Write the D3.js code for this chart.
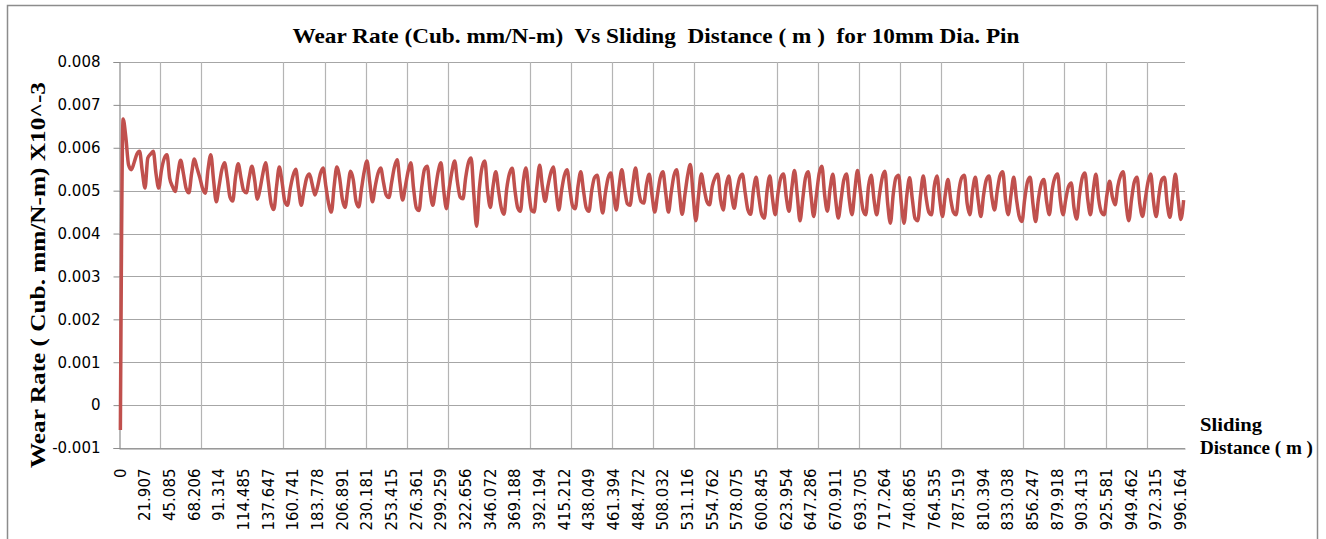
<!DOCTYPE html>
<html>
<head>
<meta charset="utf-8">
<script src="https://cdn.jsdelivr.net/npm/d3@7"></script>
<style>
  body { margin: 0; background: #fff; }
  svg { display: block; }
</style>
</head>
<body>
<script>
// Wear rate chart (one per category)

var wearRate = [
  -0.00058, 0.00667, 0.00624, 0.00560, 0.00549, 0.00565, 0.00585, 0.00592, 0.00545, 0.00506,
  0.00576, 0.00585, 0.00592, 0.00540, 0.00506, 0.00548, 0.00575, 0.00584, 0.00529, 0.00510,
  0.00498, 0.00540, 0.00571, 0.00540, 0.00505, 0.00495, 0.00540, 0.00574, 0.00552, 0.00530,
  0.00505, 0.00494, 0.00550, 0.00584, 0.00525, 0.00474, 0.00510, 0.00548, 0.00565, 0.00530,
  0.00485, 0.00476, 0.00530, 0.00563, 0.00530, 0.00500, 0.00495, 0.00530, 0.00557, 0.00525,
  0.00480, 0.00505, 0.00540, 0.00565, 0.00520, 0.00470, 0.00456, 0.00510, 0.00555, 0.00520,
  0.00475, 0.00466, 0.00505, 0.00535, 0.00550, 0.00505, 0.00466, 0.00500, 0.00530, 0.00539,
  0.00515, 0.00490, 0.00510, 0.00540, 0.00553, 0.00510, 0.00470, 0.00450, 0.00510, 0.00555,
  0.00530, 0.00480, 0.00461, 0.00505, 0.00545, 0.00525, 0.00475, 0.00462, 0.00505, 0.00545,
  0.00569, 0.00520, 0.00474, 0.00510, 0.00540, 0.00553, 0.00520, 0.00490, 0.00484, 0.00520,
  0.00555, 0.00572, 0.00520, 0.00478, 0.00510, 0.00545, 0.00565, 0.00505, 0.00460, 0.00454,
  0.00510, 0.00550, 0.00557, 0.00500, 0.00466, 0.00505, 0.00545, 0.00565, 0.00500, 0.00458,
  0.00505, 0.00545, 0.00569, 0.00520, 0.00485, 0.00481, 0.00530, 0.00565, 0.00576, 0.00490,
  0.00417, 0.00505, 0.00555, 0.00569, 0.00500, 0.00461, 0.00510, 0.00544, 0.00500, 0.00460,
  0.00445, 0.00505, 0.00540, 0.00552, 0.00500, 0.00460, 0.00452, 0.00520, 0.00553, 0.00500,
  0.00455, 0.00450, 0.00510, 0.00559, 0.00510, 0.00475, 0.00510, 0.00540, 0.00555, 0.00500,
  0.00455, 0.00500, 0.00535, 0.00549, 0.00505, 0.00465, 0.00458, 0.00510, 0.00544, 0.00500,
  0.00460, 0.00452, 0.00500, 0.00530, 0.00536, 0.00490, 0.00448, 0.00495, 0.00530, 0.00541,
  0.00490, 0.00455, 0.00510, 0.00549, 0.00505, 0.00470, 0.00466, 0.00515, 0.00553, 0.00505,
  0.00475, 0.00471, 0.00515, 0.00538, 0.00490, 0.00450, 0.00490, 0.00530, 0.00544, 0.00495,
  0.00450, 0.00495, 0.00535, 0.00549, 0.00495, 0.00445, 0.00490, 0.00535, 0.00561, 0.00490,
  0.00430, 0.00490, 0.00539, 0.00505, 0.00475, 0.00467, 0.00510, 0.00530, 0.00538, 0.00480,
  0.00455, 0.00510, 0.00534, 0.00490, 0.00459, 0.00500, 0.00530, 0.00538, 0.00495, 0.00455,
  0.00445, 0.00500, 0.00531, 0.00485, 0.00445, 0.00436, 0.00500, 0.00534, 0.00480, 0.00444,
  0.00495, 0.00530, 0.00539, 0.00485, 0.00452, 0.00505, 0.00547, 0.00490, 0.00430, 0.00480,
  0.00530, 0.00544, 0.00490, 0.00440, 0.00490, 0.00540, 0.00557, 0.00490, 0.00452, 0.00505,
  0.00538, 0.00480, 0.00436, 0.00480, 0.00525, 0.00539, 0.00480, 0.00444, 0.00500, 0.00547,
  0.00500, 0.00455, 0.00444, 0.00510, 0.00536, 0.00480, 0.00444, 0.00490, 0.00530, 0.00545,
  0.00470, 0.00424, 0.00490, 0.00530, 0.00536, 0.00470, 0.00424, 0.00490, 0.00530, 0.00480,
  0.00435, 0.00430, 0.00490, 0.00534, 0.00485, 0.00450, 0.00444, 0.00510, 0.00534, 0.00480,
  0.00440, 0.00490, 0.00526, 0.00480, 0.00450, 0.00444, 0.00500, 0.00530, 0.00536, 0.00470,
  0.00444, 0.00500, 0.00531, 0.00480, 0.00440, 0.00490, 0.00525, 0.00534, 0.00485, 0.00455,
  0.00500, 0.00535, 0.00544, 0.00480, 0.00444, 0.00490, 0.00531, 0.00480, 0.00440, 0.00428,
  0.00480, 0.00520, 0.00531, 0.00470, 0.00428, 0.00480, 0.00515, 0.00526, 0.00475, 0.00444,
  0.00500, 0.00530, 0.00539, 0.00480, 0.00444, 0.00480, 0.00510, 0.00518, 0.00460, 0.00434,
  0.00490, 0.00530, 0.00541, 0.00480, 0.00444, 0.00500, 0.00538, 0.00480, 0.00450, 0.00444,
  0.00490, 0.00522, 0.00485, 0.00467, 0.00510, 0.00535, 0.00544, 0.00470, 0.00430, 0.00480,
  0.00520, 0.00531, 0.00470, 0.00440, 0.00480, 0.00520, 0.00539, 0.00475, 0.00440, 0.00490,
  0.00525, 0.00531, 0.00470, 0.00438, 0.00490, 0.00538, 0.00480, 0.00433, 0.00478
];

// category labels shown on the x axis (every 9th category)
var xTickLabels = [
  '0', '21.907', '45.085', '68.206', '91.314', '114.485', '137.647', '160.741', '183.778',
  '206.891', '230.181', '253.415', '276.361', '299.259', '322.656', '346.072', '369.188',
  '392.194', '415.212', '438.049', '461.394', '484.772', '508.032', '531.116', '554.762',
  '578.075', '600.845', '623.954', '647.286', '670.911', '693.705', '717.264', '740.865',
  '764.535', '787.519', '810.394', '833.038', '856.247', '879.918', '903.413', '925.581',
  '949.462', '972.315', '996.164'
];

var yTickValues = [-0.001, 0, 0.001, 0.002, 0.003, 0.004, 0.005, 0.006, 0.007, 0.008];
var yTickLabels = ['-0.001', '0', '0.001', '0.002', '0.003', '0.004', '0.005', '0.006', '0.007', '0.008'];

var W = 1326, H = 539;
var plot = {left: 119, right: 1185, top: 62, bottom: 448};
var labelEvery = 9, gridEvery = 15;

var svg = d3.select('body').append('svg')
    .attr('width', W)
    .attr('height', H);

svg.append('rect')
    .attr('width', W).attr('height', H)
    .attr('fill', '#fff');

// chart frame
svg.append('rect')
    .attr('x', 7.5).attr('y', 5.5)
    .attr('width', 1310).attr('height', 560)
    .attr('fill', 'none')
    .attr('stroke', '#8c8c8c')
    .attr('stroke-width', 1.5);

var idx = d3.range(wearRate.length);

var xScale = d3.scaleBand()
    .domain(idx)
    .range([plot.left, plot.right]);

var yScale = d3.scaleLinear()
    .domain([-0.001, 0.008])
    .range([plot.bottom, plot.top]);

var chartG = svg.append('g');

// horizontal gridlines
chartG.append('g')
    .selectAll('line')
    .data(yTickValues)
    .enter().append('line')
    .attr('x1', plot.left).attr('x2', plot.right)
    .attr('y1', function(d) { return Math.round(yScale(d)) + 0.5; })
    .attr('y2', function(d) { return Math.round(yScale(d)) + 0.5; })
    .attr('stroke', '#a6a6a6')
    .attr('stroke-width', 1.2);

// vertical gridlines, one every gridEvery categories (some are missing in the picture)
var gridIdx = idx.filter(function(i) { return i > 0 && i % gridEvery === 0 && i % 90 !== 45; });
chartG.append('g')
    .selectAll('line')
    .data(gridIdx)
    .enter().append('line')
    .attr('x1', function(d) { return Math.round(xScale(d)) + 0.5; })
    .attr('x2', function(d) { return Math.round(xScale(d)) + 0.5; })
    .attr('y1', plot.top).attr('y2', plot.bottom)
    .attr('stroke', '#b4b4b4')
    .attr('stroke-width', 1.2);

// y axis
var yAxisG = chartG.append('g')
    .attr('transform', 'translate(' + (plot.left + 0.5) + ',0)')
    .call(d3.axisLeft(yScale)
        .tickValues(yTickValues)
        .tickFormat(function(d, i) { return yTickLabels[i]; })
        .tickSize(6)
        .tickPadding(13));
yAxisG.select('.domain').attr('stroke', '#8c8c8c').attr('stroke-width', 1.2);
yAxisG.selectAll('.tick line').attr('stroke', '#8c8c8c');
yAxisG.selectAll('text')
    .attr('fill', '#000')
    .style('font-family', '"DejaVu Sans", Verdana, sans-serif')
    .style('font-size', '15px');

// x axis (labels every 9th category, rotated)
var xAxisG = chartG.append('g')
    .attr('transform', 'translate(0,' + (plot.bottom + 0.5) + ')')
    .call(d3.axisBottom(xScale)
        .tickValues(idx.filter(function(i) { return i % labelEvery === 0; }))
        .tickFormat(function(d) { return xTickLabels[d / labelEvery]; })
        .tickSize(0)
        .tickPadding(0));
xAxisG.select('.domain').attr('stroke', '#8c8c8c').attr('stroke-width', 1.2);
xAxisG.selectAll('text')
    .attr('fill', '#000')
    .attr('transform', 'rotate(-90)')
    .attr('x', -20)
    .attr('y', 0)
    .attr('dy', '0.35em')
    .style('text-anchor', 'end')
    .style('font-family', '"DejaVu Sans", Verdana, sans-serif')
    .style('font-size', '15px');

// the series line
var line = d3.line()
    .x(function(d, i) { return xScale(i) + xScale.bandwidth() / 2; })
    .y(function(d) { return yScale(d); })
    .curve(d3.curveMonotoneX);

chartG.append('path')
    .datum(wearRate)
    .attr('d', line)
    .attr('fill', 'none')
    .attr('stroke', '#c0504d')
    .attr('stroke-width', 3.5)
    .attr('stroke-linejoin', 'round');

// titles
var serif = '"Liberation Serif", "Times New Roman", serif';

svg.append('text')
    .attr('x', 656).attr('y', 43)
    .attr('text-anchor', 'middle')
    .attr('textLength', 727)
    .attr('lengthAdjust', 'spacingAndGlyphs')
    .style('white-space', 'pre')
    .style('font-family', serif)
    .style('font-weight', 'bold')
    .style('font-size', '21px')
    .text('Wear Rate (Cub. mm/N-m)  Vs Sliding  Distance ( m )  for 10mm Dia. Pin');

svg.append('text')
    .attr('transform', 'translate(45,275) rotate(-90)')
    .attr('text-anchor', 'middle')
    .attr('textLength', 386)
    .attr('lengthAdjust', 'spacingAndGlyphs')
    .style('font-family', serif)
    .style('font-weight', 'bold')
    .style('font-size', '22px')
    .text('Wear Rate ( Cub. mm/N-m) X10^-3');

svg.append('text')
    .attr('x', 1200).attr('y', 431)
    .attr('textLength', 62)
    .attr('lengthAdjust', 'spacingAndGlyphs')
    .style('font-family', serif)
    .style('font-weight', 'bold')
    .style('font-size', '18px')
    .text('Sliding');

svg.append('text')
    .attr('x', 1200).attr('y', 454)
    .attr('textLength', 113)
    .attr('lengthAdjust', 'spacingAndGlyphs')
    .style('font-family', serif)
    .style('font-weight', 'bold')
    .style('font-size', '18px')
    .text('Distance ( m )');
</script>
</body>
</html>
